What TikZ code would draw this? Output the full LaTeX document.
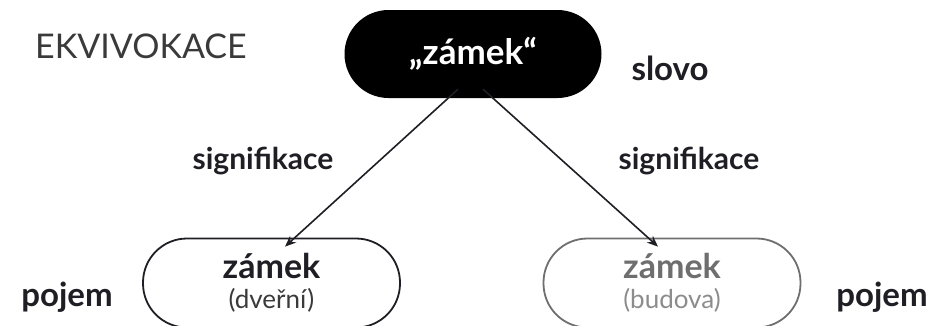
\documentclass[tikz,border=0pt]{standalone}
\usepackage{fontspec}
\setmainfont{Lato}
\usepackage{tikz}
\usetikzlibrary{arrows.meta}

\definecolor{ink}{HTML}{1E1E24}
\definecolor{titlegray}{HTML}{3A3A3A}
\definecolor{dimgray}{HTML}{6E6E6E}
\definecolor{lightgray}{HTML}{8C8C8C}

\tikzset{
	pill/.style={rounded corners=44pt, minimum width=257pt, minimum height=89pt, inner sep=0pt, align=center},
	concept/.style={pill, line width=1.8pt, font=\fontsize{34}{30}\selectfont\bfseries},
	tag/.style={font=\fontsize{33}{36}\selectfont\bfseries, text=ink},
	arr/.style={-{Stealth[length=11pt,width=9pt]}, line width=1.6pt, draw=ink}
}

\begin{document}
\begin{tikzpicture}[x=1pt, y=-1pt]
			\useasboundingbox (0,0) rectangle (938,325);
			\clip (0,0) rectangle (938,325);
			
			% top word
			\node[pill, fill=black, minimum height=88pt, text=white, font=\fontsize{35}{40}\selectfont\bfseries] (slovo) at (473, 54) {„zámek“};
			
			% the two concepts
			\node[concept, draw=ink, text=ink] (dvere) at (271.5, 283) {zámek\\ {\fontsize{26}{30}\selectfont\mdseries\color{titlegray}(dveřní)}};
			\node[concept, draw=dimgray, text=dimgray] (budova) at (672, 283) {zámek\\ {\fontsize{26}{30}\selectfont\mdseries\color{lightgray}(budova)}};
			
			\draw[arr] ([xshift=-15pt, yshift=9pt]slovo.south) -- ([xshift=13.5pt, yshift=-9pt]dvere.north);
			\draw[arr] ([xshift=10pt, yshift=9pt]slovo.south) -- ([xshift=-14pt, yshift=-9pt]budova.north);
			
			% labels
			\node[font=\fontsize{34}{40}\selectfont, text=titlegray] (ekvi) at (141, 46) {EKVIVOKACE};
			\node[tag] (lslovo) at (670, 68) {slovo};
			\node[tag, font=\fontsize{30}{34}\selectfont\bfseries] (lsigA) at (263, 161) {signifikace};
			\node[tag, font=\fontsize{30}{34}\selectfont\bfseries] (lsigB) at (689, 161) {signifikace};
			\node[tag] (lpojA) at (67, 297) {pojem};
			\node[tag] (lpojB) at (882, 297) {pojem};
		\end{tikzpicture}
\end{document}
